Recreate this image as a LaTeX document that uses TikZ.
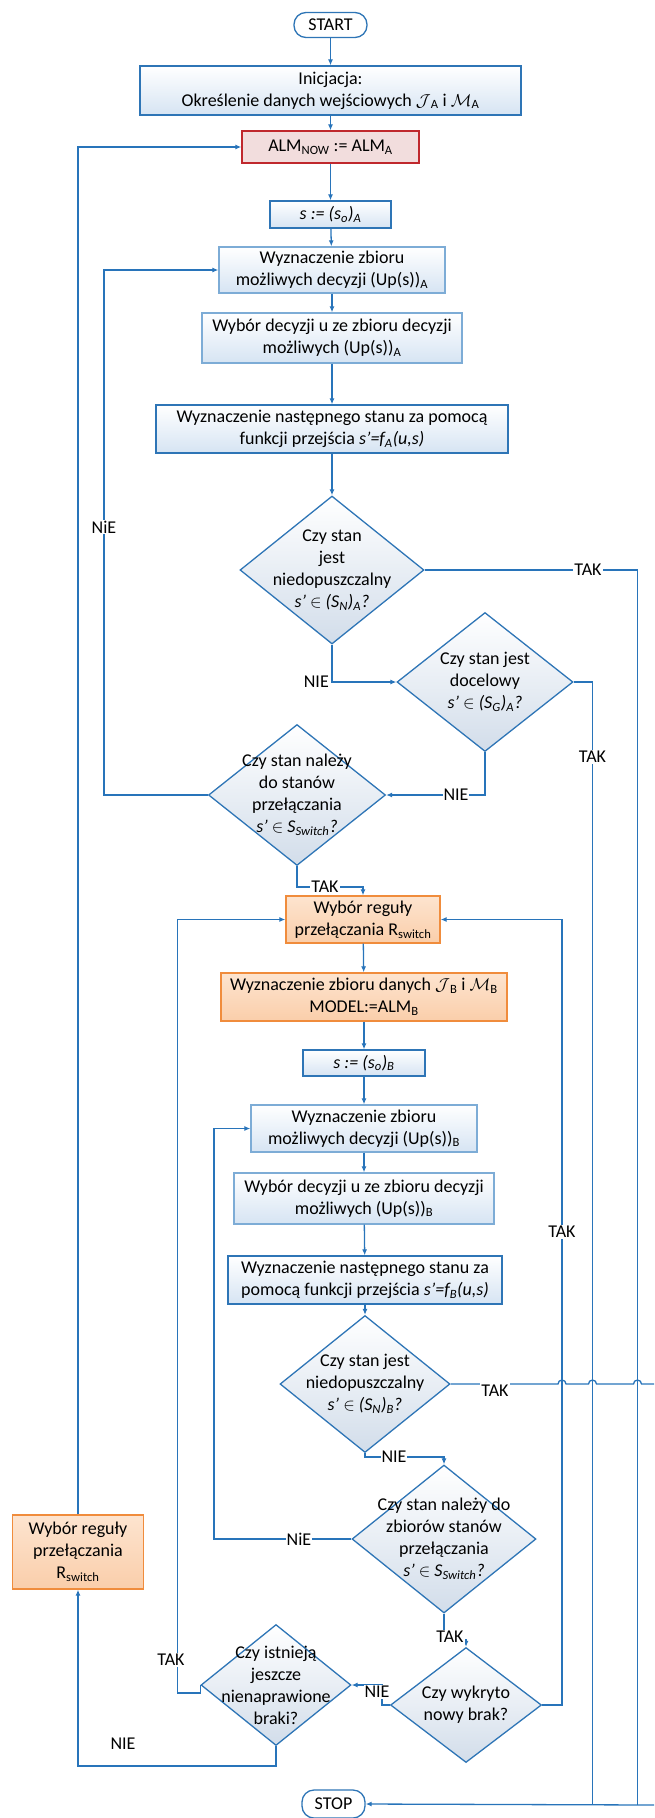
\documentclass[tikz,border=0pt]{standalone}
\usepackage{fontspec}
\setmainfont{Carlito}
\usepackage{amssymb}
\usetikzlibrary{shapes.geometric, arrows.meta}
\definecolor{flowline}{RGB}{40,116,186}
\definecolor{boxline}{RGB}{46,117,182}
\definecolor{lightline}{RGB}{125,172,214}
\definecolor{boxbot}{RGB}{214,228,243}
\definecolor{decbot}{RGB}{210,221,234}
\definecolor{almline}{RGB}{192,40,45}
\definecolor{almfill}{RGB}{242,221,221}
\definecolor{orline}{RGB}{240,140,60}
\definecolor{ortop}{RGB}{253,228,207}
\definecolor{orfill}{RGB}{250,206,170}
\newcommand{\sbs}[1]{\textsubscript{#1}}

\begin{document}
\begin{tikzpicture}[x=1pt, y=-1pt,
		every node/.style={font=\fontsize{18}{22}\selectfont, inner sep=0pt},
		line/.style={draw=flowline, line width=1.3pt},
		arr/.style={line, -{Latex[length=6pt, width=5pt]}},
		proc/.style={draw=boxline, line width=1.3pt, top color=white, bottom color=boxbot, align=center},
		procl/.style={proc, draw=lightline},
		almbox/.style={proc, draw=almline, top color=almfill, bottom color=almfill},
		orbox/.style={proc, draw=orline, top color=ortop, bottom color=orfill},
		term/.style={draw=boxline, line width=1.3pt, rounded corners=12pt, fill=white},
		dec/.style={diamond, draw=boxline, line width=1.3pt, top color=white, bottom color=decbot},
		dtxt/.style={align=center},
		lab/.style={fill=white, inner sep=1pt}]
		\useasboundingbox (0,0) rectangle (654,1818);
		% part A
		\node[term, minimum width=73, minimum height=25] (start) at (330.5,25) {START};
		\node[proc, minimum width=381, minimum height=49] (init) at (330.5,90.5) {Inicjacja:\\Określenie danych wejściowych $\mathcal{J}$\sbs{A} i $\mathcal{M}$\sbs{A}};
		\node[almbox, minimum width=177, minimum height=32] (alm) at (330.5,147) {ALM\sbs{NOW} := ALM\sbs{A}};
		\node[proc, minimum width=121, minimum height=27] (sA) at (330.5,214.5) {\textit{s := (s\sbs{o})\sbs{A}}};
		\node[procl, minimum width=226, minimum height=46] (wzA) at (332,270) {Wyznaczenie zbioru\\możliwych decyzji (Up(s))\sbs{A}};
		\node[procl, minimum width=260, minimum height=50] (wybA) at (332,338) {Wybór decyzji u ze zbioru decyzji\\możliwych (Up(s))\sbs{A}};
		\node[proc, minimum width=352, minimum height=48] (nastA) at (332,429) {Wyznaczenie następnego stanu za pomocą\\funkcji przejścia \textit{s’=f\sbs{A}(u,s)}};
		\node[dec, minimum width=184, minimum height=148, label={[dtxt]center:{Czy stan\\jest\\niedopuszczalny\\\textit{s’ $\in$ (S\sbs{N})\sbs{A}?}}}] (d1) at (332,570) {};
		\node[dec, minimum width=176, minimum height=139, label={[dtxt]center:{Czy stan jest\\docelowy\\\textit{s’ $\in$ (S\sbs{G})\sbs{A}?}}}] (d2) at (485,682) {};
		\node[dec, minimum width=177, minimum height=141, label={[dtxt]center:{Czy stan należy\\do stanów\\przełączania\\\textit{s’ $\in$ S\sbs{Switch}?}}}] (d3) at (297,795) {};
		% part B
		\node[orbox, minimum width=154, minimum height=47] (wybR) at (363,919.5) {Wybór reguły\\przełączania R\sbs{switch}};
		\node[orbox, minimum width=286, minimum height=48] (zbB) at (364,997) {Wyznaczenie zbioru danych $\mathcal{J}$\sbs{B} i $\mathcal{M}$\sbs{B}\\MODEL:=ALM\sbs{B}};
		\node[proc, minimum width=122, minimum height=26] (sB) at (364,1063) {\textit{s := (s\sbs{o})\sbs{B}}};
		\node[procl, minimum width=226, minimum height=47] (wzB) at (364,1128.5) {Wyznaczenie zbioru\\możliwych decyzji (Up(s))\sbs{B}};
		\node[procl, minimum width=260, minimum height=51] (wybB) at (364,1198.5) {Wybór decyzji u ze zbioru decyzji\\możliwych (Up(s))\sbs{B}};
		\node[proc, minimum width=274, minimum height=48] (nastB) at (365,1280) {Wyznaczenie następnego stanu za\\pomocą funkcji przejścia \textit{s’=f\sbs{B}(u,s)}};
		\node[dec, minimum width=170, minimum height=137, label={[dtxt]center:{Czy stan jest\\niedopuszczalny\\\textit{s’ $\in$ (S\sbs{N})\sbs{B}?}}}] (d4) at (365,1384) {};
		\node[dec, minimum width=184, minimum height=148, label={[dtxt]center:{Czy stan należy do\\zbiorów stanów\\przełączania\\\textit{s’ $\in$ S\sbs{Switch}?}}}] (d5) at (444,1539) {};
		\node[orbox, minimum width=131, minimum height=74] (lrule) at (78,1552) {Wybór reguły\\przełączania\\R\sbs{switch}};
		\node[dec, minimum width=150, minimum height=121, label={[dtxt]center:{Czy istnieją\\jeszcze\\nienaprawione\\braki?}}] (d6) at (276,1685) {};
		\node[dec, minimum width=151, minimum height=115, label={[dtxt]center:{Czy wykryto\\nowy brak?}}] (d7) at (466,1705) {};
		\node[term, minimum width=63, minimum height=28] (stop) at (333.5,1804) {STOP};
		% straight flow
		\draw[arr] (start) -- (init);
		\draw[arr] (init) -- (alm);
		\draw[arr] (alm) -- (sA);
		\draw[arr] (sA) -- (wzA);
		\draw[arr] (wzA) -- (wybA);
		\draw[arr] (wybA) -- (nastA);
		\draw[arr] (nastA) -- (d1);
		\draw[arr] (wybR) -- (zbB);
		\draw[arr] (zbB) -- (sB);
		\draw[arr] (sB) -- (wzB);
		\draw[arr] (wzB) -- (wybB);
		\draw[arr] (wybB) -- (nastB);
		\draw[arr] (nastB) -- (d4);
		% decisions A
		\draw[arr] (d1.south) |- (d2.west);
		\node[anchor=east] (nie1) at (329,682) {NIE};
		\draw[line] (d1.east) -| (637.5,1805);
		\node[lab] (tak1) at (588,570) {TAK};
		\draw[line] (d2.east) -| (592.5,1805);
		\node[lab] (tak2) at (592.5,757) {TAK};
		\draw[arr] (d2.south) |- (d3.east);
		\node[lab] (nie2) at (456,795) {NIE};
		\draw[arr] (d3.west) -- (104,795) |- (wzA.west);
		\node[lab] (nie3) at (104,527) {NiE};
		\draw[arr] (d3.south) -- (297,887) -| (wybR.north);
		\node[lab] (tak3) at (325,887) {TAK};
		% decisions B
		\draw[line] (d4.east) -- (558,1384) arc[start angle=180, end angle=0, radius=4pt]
			-- (588.5,1384) arc[start angle=180, end angle=0, radius=4pt]
			-- (633.5,1384) arc[start angle=180, end angle=0, radius=4pt] -- (654,1384);
		\node[lab, inner ysep=3.5pt] (tak4) at (495,1391) {TAK};
		\draw[arr] (d4.south) -- (365,1457) -| (d5.north);
		\node[lab] (nie4) at (394,1457) {NIE};
		\draw[arr] (d5.west) -- (214,1539) |- (wzB.west);
		\node[lab] (nie5) at (299,1539) {NiE};
		\draw[arr] (d5.south) -- (444,1640) -| (d7.north);
		\node[lab] (tak5) at (450,1637) {TAK};
		\draw[arr] (d7.east) -- (562,1705) |- (wybR.east);
		\node[lab] (tak7) at (562,1232) {TAK};
		\draw[arr] (d7.west) -- ++(-8,0) |- (d6.east);
		\node[lab] (nie7) at (377,1692) {NIE};
		\draw[arr] (d6.west) -- ++(0,8) -- (177.5,1693) |- (wybR.west);
		\node[lab] (tak6) at (171,1660) {TAK};
		\draw[arr] (d6.south) -- (276,1766) -| (lrule.south);
		\node (nie6) at (123,1744) {NIE};
		\draw[arr] (lrule.north) |- (alm.west);
		\draw[arr] (654,1805) -- (stop.east);
\end{tikzpicture}
\end{document}
